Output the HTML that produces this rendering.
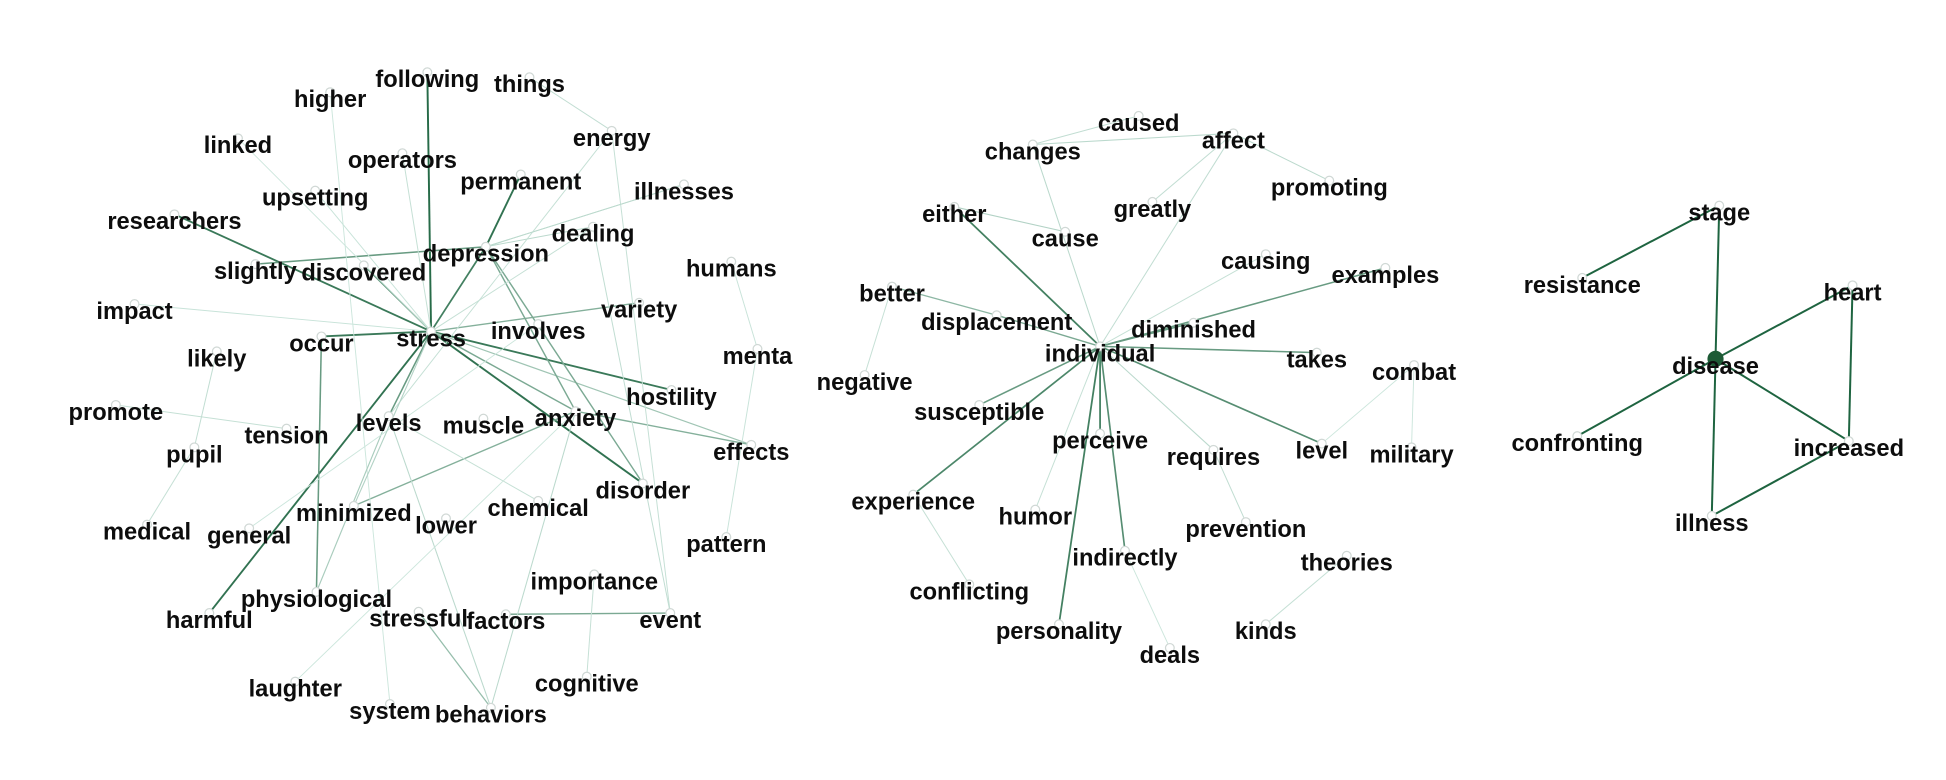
<!DOCTYPE html>
<html><head><meta charset="utf-8"><style>
html,body{margin:0;padding:0;background:#fff;width:1946px;height:780px;overflow:hidden}
svg{display:block}
text{font-family:"Liberation Sans",Arial,sans-serif;font-weight:bold;font-size:19px;fill:#0d0d0d}
</style></head><body>
<svg id="chart" width="1946" height="780" viewBox="0 0 1562 626" preserveAspectRatio="none" xmlns="http://www.w3.org/2000/svg">
<g id="edges"></g>
<g id="nodes"></g>
<g id="labels"></g>
</svg>
<script>
const nodeNames = ["following","things","higher","linked","operators","energy","permanent","illnesses","upsetting","researchers","dealing","depression","slightly","discovered","humans","impact","variety","stress","involves","occur","likely","menta","hostility","promote","levels","tension","muscle","anxiety","pupil","effects","disorder","minimized","chemical","lower","medical","general","pattern","importance","physiological","event","harmful","stressful","factors","laughter","cognitive","system","behaviors",
"caused","changes","affect","promoting","either","cause","greatly","causing","examples","better","displacement","diminished","individual","takes","combat","negative","susceptible","perceive","requires","level","military","experience","humor","prevention","indirectly","theories","conflicting","personality","kinds","deals",
"stage","resistance","heart","disease","confronting","increased","illness"];
const nodeX = [343,425,265,191,323,491,418,549,253,140,476,390,205,292,587,108,513,346,432,258,174,608,539,93,312,230,388,462,156,603,516,284,432,358,118,200,583,477,254,538,168,336,406,237,471,313,394,
914,829,990,1067,766,855,925,1016,1112,716,800,958,883,1057,1135,694,786,883,974,1061,1133,733,831,1000,903,1081,778,850,1016,939,
1380,1270,1487,1377,1266,1484,1374];
const nodeY = [64,68,80,117,129,111,146,154,159,178,188,204,218,219,216,250,249,272,266,276,288,286,319,331,340,350,342,336,365,363,394,412,408,422,427,430,437,467,481,498,498,497,499,553,549,571,574,
99,122,113,151,172,192,168,210,221,236,259,265,284,289,299,307,331,354,367,362,365,403,415,425,448,452,475,507,507,526,
171,229,235,294,356,360,420];
const edgeFrom = ["stress","depression","stress","stress","slightly","stress","stress","stress","occur","stress","stress","stress","stress","stress","stress","occur","depression","depression","depression","depression","anxiety","anxiety","things","energy","stress","higher","linked","upsetting","promote","likely","pupil","humans","menta","dealing","factors","stressful","importance","chemical","levels","levels","laughter","dealing","energy","illnesses","anxiety","involves","stress",
"changes","changes","affect","affect","affect","changes","either","either","better","displacement","better","individual","individual","individual","individual","individual","individual","individual","individual","individual","individual","individual","individual","requires","combat","combat","experience","indirectly","theories",
"stage","stage","heart","heart","disease","disease","increased","illness"];
const edgeTo = ["following","permanent","depression","researchers","depression","discovered","impact","variety","stress","levels","harmful","hostility","disorder","anxiety","effects","physiological","anxiety","disorder","dealing","illnesses","minimized","effects","energy","event","operators","system","stress","stress","tension","pupil","medical","menta","pattern","event","event","behaviors","cognitive","levels","physiological","behaviors","anxiety","stress","levels","depression","behaviors","general","minimized",
"caused","affect","promoting","greatly","individual","individual","cause","individual","displacement","individual","negative","causing","examples","diminished","takes","level","susceptible","experience","perceive","personality","indirectly","humor","requires","prevention","level","military","conflicting","deals","kinds",
"resistance","disease","disease","increased","confronting","increased","illness","disease"];
const edgeWeight = [0.95,0.9,0.8,0.85,0.6,0.6,0.08,0.45,0.85,0.6,0.9,0.85,0.9,0.5,0.3,0.6,0.5,0.5,0.15,0.15,0.45,0.45,0.12,0.1,0.1,0.06,0.06,0.08,0.1,0.12,0.1,0.08,0.08,0.12,0.5,0.35,0.1,0.1,0.25,0.15,0.06,0.1,0.1,0.15,0.15,0.06,0.2,
0.12,0.15,0.15,0.12,0.12,0.15,0.2,0.8,0.4,0.5,0.1,0.1,0.6,0.6,0.6,0.7,0.6,0.75,0.8,0.8,0.7,0.1,0.15,0.12,0.06,0.06,0.1,0.06,0.1,
1,1,1,1,1,1,1,1];

const svgNS="http://www.w3.org/2000/svg";
const idx = n => nodeNames.indexOf(n);
const sx = i => nodeX[i], sy = i => nodeY[i] - 6;
function mix(w){const a=[215,238,230],b=[30,100,64];return "rgb("+a.map((v,k)=>Math.round(v+(b[k]-v)*w)).join(",")+")";}
const eg=document.getElementById("edges");
for(let k=0;k<edgeFrom.length;k++){
  const a=idx(edgeFrom[k]), b=idx(edgeTo[k]);
  const l=document.createElementNS(svgNS,"line");
  l.setAttribute("x1",sx(a));l.setAttribute("y1",sy(a));l.setAttribute("x2",sx(b));l.setAttribute("y2",sy(b));
  l.setAttribute("stroke",mix(edgeWeight[k]));l.setAttribute("stroke-width",0.7+edgeWeight[k]*0.9);
  
  
  eg.appendChild(l);
}
const ng=document.getElementById("nodes"), lg=document.getElementById("labels");
for(let i=0;i<nodeNames.length;i++){
  const c=document.createElementNS(svgNS,"circle");
  const big=nodeNames[i]==="disease";
  c.setAttribute("cx",sx(i));c.setAttribute("cy",sy(i));c.setAttribute("r",big?6:3.5);
  c.setAttribute("fill",big?"#1d5a35":"#fff");c.setAttribute("stroke",big?"#1d5a35":"#d0d8d5");
  
  
  ng.appendChild(c);
  const t=document.createElementNS(svgNS,"text");
  t.setAttribute("x",nodeX[i]);t.setAttribute("y",nodeY[i]+6);t.setAttribute("text-anchor","middle");
  t.textContent=nodeNames[i];
  
  
  lg.appendChild(t);
}
</script>
</body></html>
